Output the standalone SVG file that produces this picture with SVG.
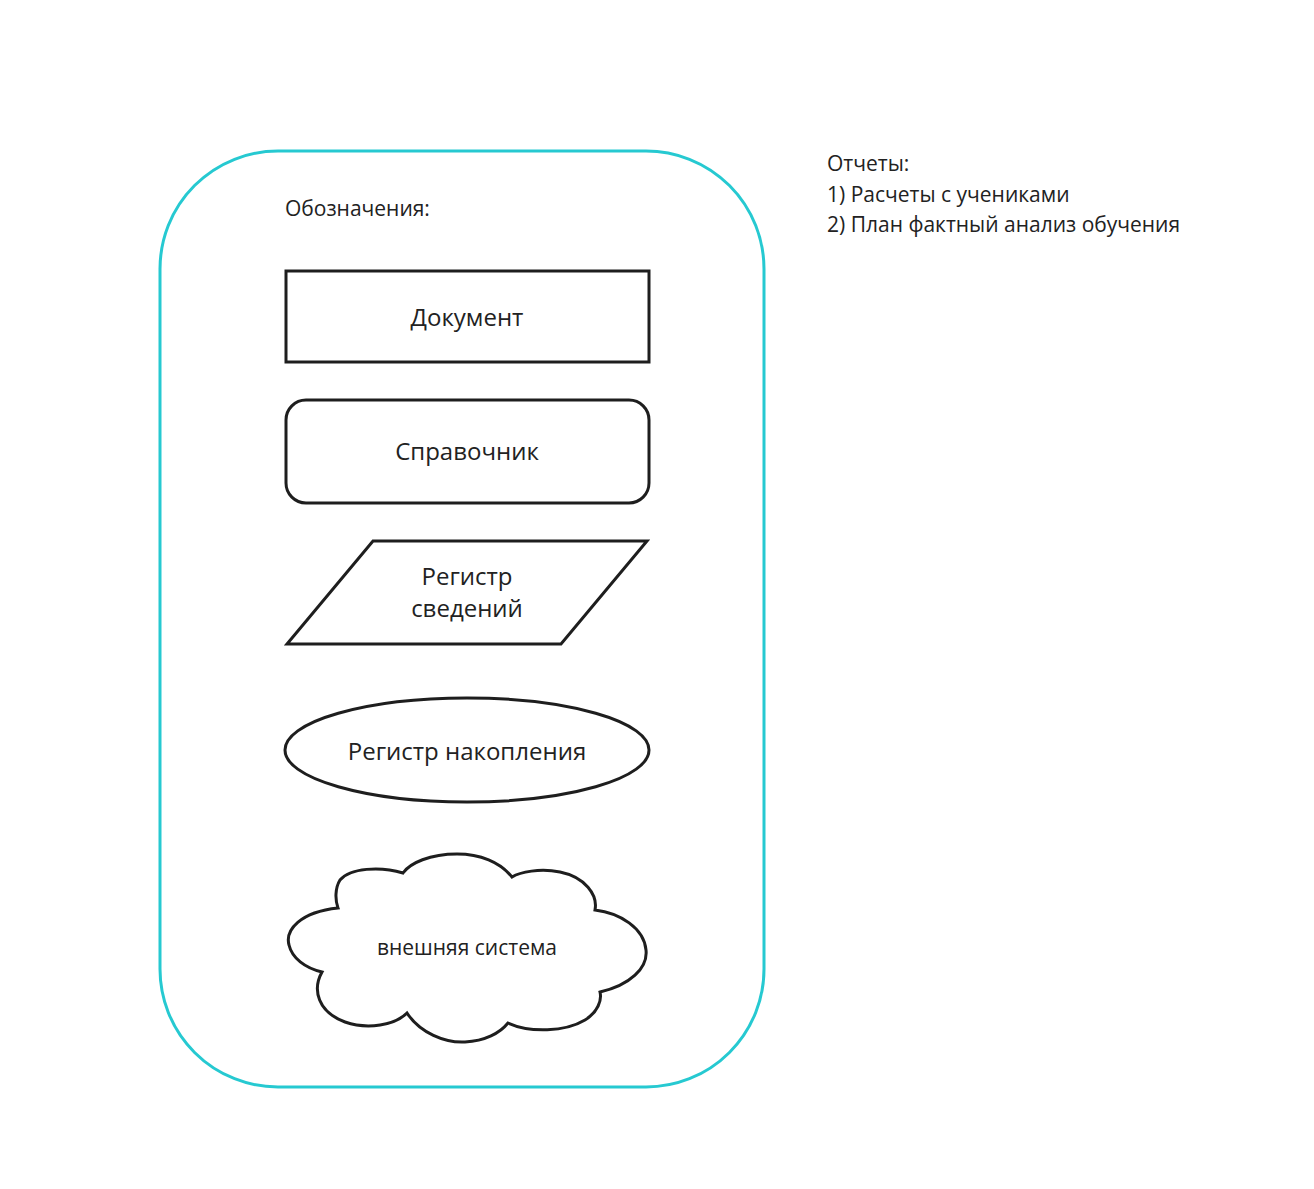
<svg xmlns="http://www.w3.org/2000/svg" width="1314" height="1189" viewBox="0 0 1314 1189">
<style>
.s{fill:#fff;stroke:#1e1e1e;stroke-width:3}
.t{font-family:"Open Sans","Noto Sans",sans-serif;fill:#222;font-size:24px}
.m{text-anchor:middle}
.sm{font-size:21px}
</style>
<rect width="1314" height="1189" fill="#fff"/>
<g id="legend-frame">
<rect x="160" y="151" width="604" height="936" rx="118" fill="#fff" stroke="#26c9d1" stroke-width="3"/>
<text class="t sm" x="285" y="216">Обозначения:</text>
</g>
<g id="document">
<rect class="s" x="286" y="271" width="363" height="91"/>
<text class="t m" x="467" y="326">Документ</text>
</g>
<g id="catalog">
<rect class="s" x="286" y="400" width="363" height="103" rx="20"/>
<text class="t m" x="467" y="460">Справочник</text>
</g>
<g id="info-register">
<polygon class="s" points="373,541 647,541 561,644 287,644"/>
<text class="t m" x="467" y="585">Регистр</text>
<text class="t m" x="467" y="617">сведений</text>
</g>
<g id="accum-register">
<ellipse class="s" cx="467" cy="750" rx="182" ry="52"/>
<text class="t m" x="467" y="760">Регистр накопления</text>
</g>
<g id="external-system">
<path class="s" d="M338,908 C300,912 285,930 289,945 C292,958 305,968 322,972 C312,990 318,1012 345,1022 C368,1030 395,1025 407,1013 C420,1033 445,1043 465,1042 C485,1041 500,1033 508,1023 C530,1033 565,1032 585,1020 C598,1012 602,1000 600,992 C630,985 648,968 646,950 C644,928 620,913 595,910 C598,895 585,877 560,872 C540,868 520,872 512,877 C500,862 480,854 457,854 C430,854 410,863 403,873 C380,866 350,868 340,880 C335,888 335,900 338,908 Z"/>
<text class="t m sm" x="467" y="955">внешняя система</text>
</g>
<g id="reports">
<text class="t sm" x="827" y="171">Отчеты:</text>
<text class="t sm" x="827" y="202">1) Расчеты с учениками</text>
<text class="t sm" x="827" y="232">2) План фактный анализ обучения</text>
</g>
<g id="connectors"></g>
</svg>
